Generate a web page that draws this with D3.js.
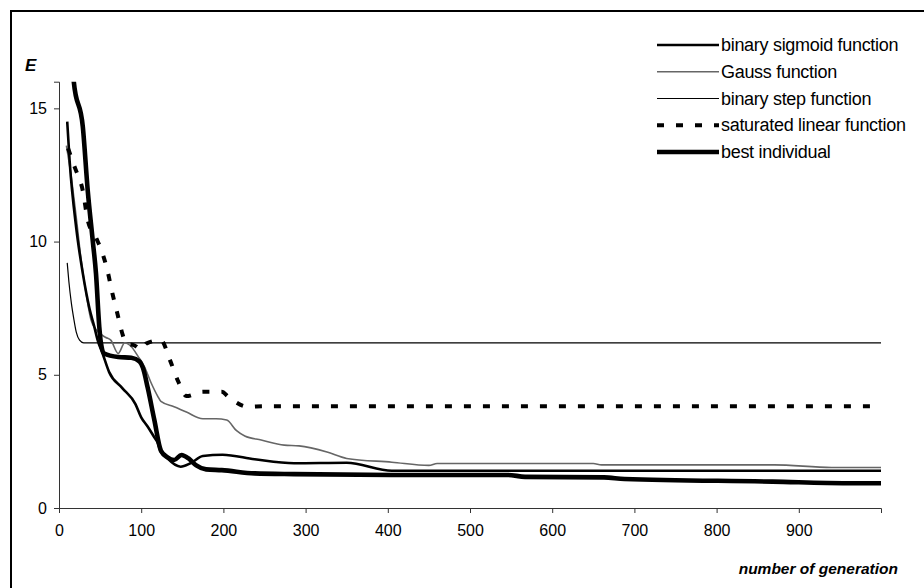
<!DOCTYPE html>
<html><head><meta charset="utf-8">
<script src="https://cdn.jsdelivr.net/npm/d3@7"></script>
<style>
html,body{margin:0;padding:0;background:#fff;}
svg{display:block;}
text{font-family:"Liberation Sans",Arial,sans-serif;fill:#000;}
</style></head>
<body>
<svg id="chart" width="924" height="588"></svg>
<script>
// ---- data ----
const xTicks = [0,100,200,300,400,500,600,700,800,900];
const yTicks = [0,5,10,15];

const stepGen = [10,12,15,18,21,25,30,1000];
const stepE   = [9.2,8.5,7.7,7.1,6.6,6.3,6.2,6.2];

const sigmoidGen = [10,13,21,29,37,43,47,53,61,77,93,100,108,116,120,124,128,132,148,160,175,199,238,286,350,405,1000];
const sigmoidE   = [14.5,13.0,10.5,8.8,7.5,6.8,6.3,5.8,5.1,4.5,3.9,3.4,3.05,2.65,2.45,2.1,2.0,1.86,1.55,1.68,1.95,2.0,1.83,1.68,1.7,1.4,1.4];

const gaussGen = [9,15,21,27,33,39,45,57,63,72,80,88,96,104,112,120,124,140,155,175,191,204,216,226,246,274,292,326,350,405,450,460,650,660,870,940,1000];
const gaussE   = [13.6,12.4,10.9,9.3,8.05,7.05,6.7,6.4,6.3,5.8,6.2,6.05,5.7,5.3,4.7,4.2,4.0,3.8,3.6,3.35,3.35,3.3,2.9,2.7,2.55,2.36,2.33,2.1,1.86,1.72,1.6,1.67,1.67,1.62,1.62,1.52,1.52];

const satGen = [11,19,29,35,45,53,59,65,71,77,82,92,100,106,124,135,145,155,175,198,206,230,250,1000];
const satE   = [13.5,12.8,11.9,10.8,10.15,9.55,8.9,8.05,7.3,6.55,6.17,6.1,5.95,6.17,6.3,5.55,4.75,4.2,4.36,4.36,4.17,3.8,3.82,3.82];

const bestGen = [14,18,29,35,41,45,49,51,55,72,88,98,102,108,116,124,132,140,149,158,167,179,198,238,286,405,546,567,663,688,868,959,1000];
const bestE   = [17.5,16,14.3,11.9,10.05,8.8,6.8,6.2,5.8,5.67,5.64,5.5,5.27,4.5,3.3,2.15,1.9,1.8,1.99,1.85,1.6,1.45,1.42,1.3,1.27,1.24,1.24,1.17,1.15,1.09,0.99,0.93,0.93];

const seriesNames = ["binary sigmoid function","Gauss function","binary step function","saturated linear function","best individual"];

// ---- chart ----
const svg = d3.select("#chart");
const x = d3.scaleLinear().domain([0,1000]).range([59,881]);
const y = d3.scaleLinear().domain([0,16]).range([508,81.7]);

// outer frame
svg.append("path").attr("d","M11,600 L11,11 L930,11").attr("fill","none").attr("stroke","#000").attr("stroke-width",2);

svg.append("defs").append("clipPath").attr("id","plotclip")
  .append("rect").attr("x",x(0)).attr("y",y(16)).attr("width",x(1000)-x(0)+4).attr("height",y(0)-y(16));

// axes
const yAxis = d3.axisLeft(y).tickValues(yTicks).tickSize(5).tickPadding(7).tickFormat(d3.format("d"));
const gy = svg.append("g").attr("transform",`translate(${x(0)},0)`).call(yAxis);
const xAxis = d3.axisBottom(x).tickValues(xTicks).tickSize(5).tickPadding(12).tickFormat(d3.format("d"));
const gx = svg.append("g").attr("transform",`translate(0,${y(0)})`).call(xAxis);
[gx,gy].forEach(g=>{
  g.select(".domain").attr("stroke","#333").attr("stroke-width",1);
  g.selectAll(".tick line").attr("stroke","#333");
  g.selectAll(".tick text").style("font-family","'Liberation Sans',Arial,sans-serif").style("font-size","16px").attr("fill","#000");
});

svg.append("text").attr("x",25).attr("y",71).style("font-size","17px").style("font-weight","bold").style("font-style","italic").text("E");
svg.append("text").attr("x",898).attr("y",574).attr("text-anchor","end").style("font-size","15.5px").style("font-weight","bold").style("font-style","italic").text("number of generation");

// series
const line = d3.line().x(d=>x(d[0])).y(d=>y(d[1])).curve(d3.curveMonotoneX);
const zip = (a,b)=>a.map((v,i)=>[v,b[i]]);
const styles = [
  {gen:sigmoidGen,e:sigmoidE,stroke:"#000",w:2.6,dash:null},
  {gen:gaussGen,e:gaussE,stroke:"#666",w:1.6,dash:null},
  {gen:stepGen,e:stepE,stroke:"#000",w:1.2,dash:null},
  {gen:satGen,e:satE,stroke:"#000",w:4,dash:"7,12"},
  {gen:bestGen,e:bestE,stroke:"#000",w:4.6,dash:null}
];
const plot = svg.append("g").attr("clip-path","url(#plotclip)");
[2,1,0,3,4].forEach(i=>{
  const s = styles[i];
  plot.append("path").datum(zip(s.gen,s.e)).attr("d",line)
    .attr("fill","none").attr("stroke",s.stroke).attr("stroke-width",s.w)
    .attr("stroke-dasharray",s.dash).attr("stroke-linejoin","round");
});

// legend
const lg = svg.append("g");
const rowY = d3.scalePoint().domain(seriesNames).range([45,152]);
seriesNames.forEach((n,i)=>{
  const s = styles[i];
  const yy = rowY(n);
  lg.append("line").attr("x1",657).attr("x2",719).attr("y1",yy).attr("y2",yy)
    .attr("stroke",s.stroke).attr("stroke-width",s.w).attr("stroke-dasharray",s.dash);
  lg.append("text").attr("x",721).attr("y",yy+6).style("font-size","18px").style("letter-spacing","-0.3px").text(n);
});
</script>
</body></html>
